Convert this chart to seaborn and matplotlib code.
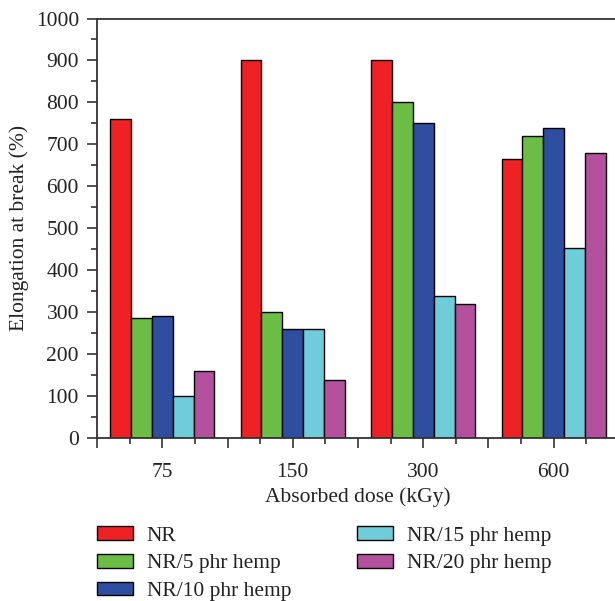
import matplotlib
matplotlib.use('Agg')
import matplotlib.pyplot as plt
import matplotlib.ticker as mticker
import pandas as pd
import seaborn as sns

# -------------------------------------------------------
# Data
# -------------------------------------------------------
doses = ['75', '150', '300', '600']
series = ['NR', 'NR/5 phr hemp', 'NR/10 phr hemp', 'NR/15 phr hemp', 'NR/20 phr hemp']
nr = [760, 900, 900, 666]
nr_5 = [287, 300, 800, 719]
nr_10 = [292, 260, 752, 740]
nr_15 = [100, 260, 339, 452]
nr_20 = [159, 139, 319, 679]
colors = ['#EE2224', '#6BBD45', '#2E4E9F', '#6FCDD9', '#B3519E']

rows = []
for name, vals in zip(series, [nr, nr_5, nr_10, nr_15, nr_20]):
    for d, v in zip(doses, vals):
        rows.append({'dose': d, 'sample': name, 'elongation': v})
df = pd.DataFrame(rows)

sns.set_style("ticks")
plt.rcParams['font.family'] = ['Liberation Serif', 'DejaVu Serif']
plt.rcParams['font.size'] = 15

W, H = 615, 601
fig = plt.figure(figsize=(W / 100, H / 100), dpi=100)
ax = fig.add_axes([97 / W, (H - 438) / H, 522 / W, (438 - 18.5) / H])

sns.barplot(data=df, x='dose', y='elongation', hue='sample', order=doses,
            hue_order=series, palette=colors, width=0.8, gap=0,
            edgecolor='black', linewidth=1.0, saturation=1, ax=ax)

ax.set_xlim(-0.5, 3.5)
ax.set_ylim(0, 1000)

# y axis ticks
ax.yaxis.set_major_locator(mticker.MultipleLocator(100))
ax.yaxis.set_minor_locator(mticker.MultipleLocator(50))

# x axis: ticks at group centres and boundaries, minor in between
major = [i * 0.5 - 0.5 for i in range(9)]
labels = [doses[int(t)] if float(t).is_integer() and 0 <= t <= 3 else '' for t in major]
ax.xaxis.set_major_locator(mticker.FixedLocator(major))
ax.set_xticklabels(labels)
ax.xaxis.set_minor_locator(mticker.FixedLocator([i * 0.5 - 0.25 for i in range(8)]))

ax.tick_params(axis='both', which='major', direction='out', length=7, width=1.2,
               color='#333333', labelsize=15.5, labelcolor='#222222')
ax.tick_params(axis='both', which='minor', direction='out', length=4, width=1.2,
               color='#333333')
ax.tick_params(axis='x', which='major', pad=11)
ax.tick_params(axis='y', which='major', pad=6)

for side in ['left', 'bottom', 'top', 'right']:
    ax.spines[side].set_color('#333333')
    ax.spines[side].set_linewidth(1.3)

ax.set_xlabel('Absorbed dose (kGy)', fontsize=15.5, color='#222222', labelpad=4)
ax.set_ylabel('Elongation at break (%)', fontsize=15.5, color='#222222', labelpad=5)

handles, lbls = ax.get_legend_handles_labels()
ax.get_legend().remove()
fig.legend(handles, lbls, ncol=2, loc='upper left', bbox_to_anchor=(78 / W, 1 - 507 / H),
           frameon=False, fontsize=15.5, handlelength=1.65, handleheight=0.6,
           handletextpad=0.65, columnspacing=3.05, labelspacing=0.38,
           labelcolor='#222222')

fig.savefig('out.png', dpi=100)
